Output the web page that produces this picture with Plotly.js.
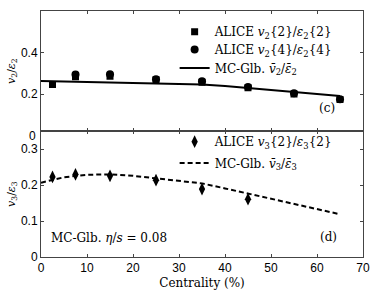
<!DOCTYPE html>
<html>
<head>
<meta charset="utf-8">
<script src="https://cdn.plot.ly/plotly-3.0.1.min.js"></script>
<style>html,body{margin:0;padding:0;background:#fff;}#chart{width:374px;height:292px;}</style>
</head>
<body>
<div id="chart"></div>
<script>
// Panel (c): v2/eps2
const v22X = [2.5, 7.5, 15, 25, 35, 45, 55, 65];
const v22Y = [0.247, 0.284, 0.286, 0.270, 0.258, 0.231, 0.201, 0.174];
const v24X = [7.5, 15, 25, 35, 45, 55, 65];
const v24Y = [0.295, 0.296, 0.272, 0.262, 0.234, 0.204, 0.176];
const glb2X = [0, 5, 10, 15, 20, 25, 30, 35, 40, 45, 50, 55, 60, 65];
const glb2Y = [0.263, 0.261, 0.259, 0.257, 0.254, 0.252, 0.249, 0.247, 0.239, 0.229, 0.220, 0.211, 0.201, 0.191];
// Panel (d): v3/eps3
const v32X = [2.5, 7.5, 15, 25, 35, 45];
const v32Y = [0.223, 0.230, 0.226, 0.214, 0.189, 0.161];
const glb3X = [0, 5, 10, 15, 20, 25, 30, 35, 40, 45, 50, 55, 60, 65];
const glb3Y = [0.207, 0.222, 0.229, 0.230, 0.226, 0.219, 0.212, 0.205, 0.191, 0.177, 0.162, 0.147, 0.133, 0.119];
const xTicks = [0, 10, 20, 30, 40, 50, 60, 70];

const serif = "'DejaVu Serif', 'Liberation Serif', serif";
const sans = "'Liberation Sans', Arial, sans-serif";

const traces = [
  {x: v22X, y: v22Y, xaxis: 'x2', yaxis: 'y2', mode: 'markers', type: 'scatter',
   name: 'ALICE <i>v</i><sub>2</sub>{2}/<i>ε</i><sub>2</sub>{2}',
   marker: {symbol: 'square', size: 7, color: '#000'}, legend: 'legend'},
  {x: v24X, y: v24Y, xaxis: 'x2', yaxis: 'y2', mode: 'markers', type: 'scatter',
   name: 'ALICE <i>v</i><sub>2</sub>{4}/<i>ε</i><sub>2</sub>{4}',
   marker: {symbol: 'circle', size: 8, color: '#000'}, legend: 'legend2'},
  {x: glb2X, y: glb2Y, xaxis: 'x2', yaxis: 'y2', mode: 'lines', type: 'scatter',
   name: 'MC-Glb. <i>v̄</i><sub>2</sub>/<i>ε̄</i><sub>2</sub>',
   line: {color: '#000', width: 2}, legend: 'legend3'},
  {x: v32X, y: v32Y, xaxis: 'x', yaxis: 'y', mode: 'markers', type: 'scatter',
   name: 'ALICE <i>v</i><sub>3</sub>{2}/<i>ε</i><sub>3</sub>{2}',
   marker: {symbol: 'diamond-tall', size: 9, color: '#000'}, legend: 'legend4'},
  {x: glb3X, y: glb3Y, xaxis: 'x', yaxis: 'y', mode: 'lines', type: 'scatter',
   name: 'MC-Glb. <i>v̄</i><sub>3</sub>/<i>ε̄</i><sub>3</sub>',
   line: {color: '#000', width: 2, dash: '5px,3px'}, legend: 'legend5'}
];

const axCommon = {
  showgrid: false, zeroline: false, showline: true, linecolor: '#444', linewidth: 1,
  mirror: 'ticks', ticks: 'inside', ticklen: 3, tickcolor: '#444',
  tickfont: {family: sans, size: 12, color: '#000'}
};

function leg(y) {
  return {x: 0.415, y: y, xanchor: 'left', yanchor: 'middle', bgcolor: 'rgba(0,0,0,0)',
    font: {family: serif, size: 12, color: '#000'}, itemwidth: 30, tracegroupgap: 0};
}

const layout = {
  width: 374, height: 292,
  margin: {l: 41, r: 11, t: 11, b: 35},
  paper_bgcolor: '#fff', plot_bgcolor: '#fff',
  showlegend: true,
  xaxis: Object.assign({}, axCommon, {domain: [0, 1], range: [0, 70], tickvals: xTicks, anchor: 'y',
    title: {text: 'Centrality (%)', font: {family: serif, size: 12, color: '#000'}, standoff: 4}}),
  yaxis: Object.assign({}, axCommon, {domain: [0, 0.511], range: [0, 0.35], tickvals: [0, 0.1, 0.2, 0.3],
    ticktext: ['0', '0.1', '0.2', '0.3'], anchor: 'x',
    title: {text: '<i>v</i><sub>3</sub>/<i>ε</i><sub>3</sub>', font: {family: serif, size: 11, color: '#000'}, standoff: 3}}),
  xaxis2: Object.assign({}, axCommon, {domain: [0, 1], range: [0, 70], tickvals: xTicks, showticklabels: false, anchor: 'y2', matches: 'x'}),
  yaxis2: Object.assign({}, axCommon, {domain: [0.511, 1], range: [0.0216, 0.6], tickvals: [0.2, 0.4, 0.6],
    ticktext: ['0.2', '0.4', ''], anchor: 'x2',
    title: {text: '<i>v</i><sub>2</sub>/<i>ε</i><sub>2</sub>', font: {family: serif, size: 11, color: '#000'}, standoff: 3}}),
  legend: leg(0.916),
  legend2: leg(0.844),
  legend3: leg(0.768),
  legend4: leg(0.469),
  legend5: leg(0.382),
  annotations: [
    {text: '0', xref: 'paper', yref: 'paper', x: 0, y: 0.49, xanchor: 'right', yanchor: 'middle', xshift: -3,
     showarrow: false, font: {family: sans, size: 12, color: '#000'}},
    {text: '(c)', xref: 'paper', yref: 'paper', x: 0.888, y: 0.606, xanchor: 'center', yanchor: 'middle',
     showarrow: false, font: {family: serif, size: 12, color: '#000'}},
    {text: '(d)', xref: 'paper', yref: 'paper', x: 0.894, y: 0.081, xanchor: 'center', yanchor: 'middle',
     showarrow: false, font: {family: serif, size: 12, color: '#000'}},
    {text: 'MC-Glb. <i>η</i>/<i>s</i> = 0.08', xref: 'paper', yref: 'paper', x: 0.025, y: 0.077, xanchor: 'left', yanchor: 'middle',
     showarrow: false, font: {family: serif, size: 12, color: '#000'}}
  ]
};

Plotly.newPlot('chart', traces, layout, {staticPlot: true, displayModeBar: false});
</script>
</body>
</html>
